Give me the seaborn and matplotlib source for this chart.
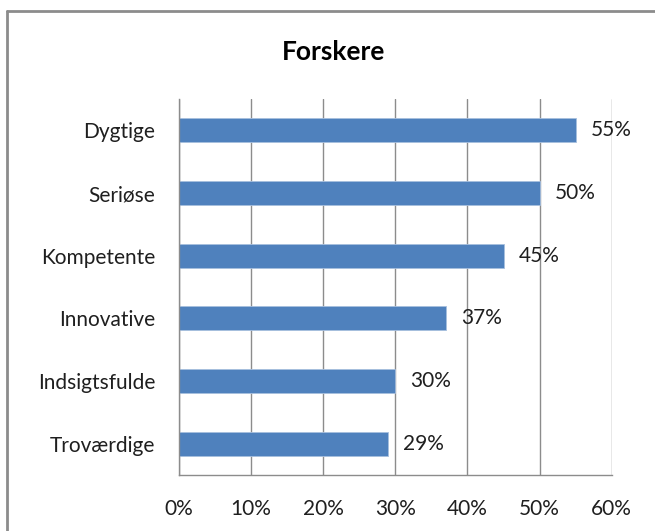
import matplotlib
matplotlib.use("Agg")
import matplotlib.pyplot as plt
from matplotlib.lines import Line2D
from matplotlib.ticker import PercentFormatter
import seaborn as sns

# data
categories = ["Dygtige", "Seriøse", "Kompetente", "Innovative", "Indsigtsfulde", "Troværdige"]
shares = [0.55, 0.50, 0.45, 0.37, 0.30, 0.29]
value_labels = ["55%", "50%", "45%", "37%", "30%", "29%"]
x_ticks = [0.0, 0.1, 0.2, 0.3, 0.4, 0.5, 0.6]

sns.set_style("white")
plt.rcParams["font.family"] = ["Lato", "DejaVu Sans"]

BAR_COLOR = "#4F81BD"
GRID_COLOR = "#8C8C8C"
TEXT_COLOR = "#1F1F1F"

fig = plt.figure(figsize=(6.55, 5.31), dpi=100)
ax = fig.add_axes([0.273, 0.1055, 0.661, 0.708])

sns.barplot(x=shares, y=categories, orient="h", color=BAR_COLOR, saturation=1,
            width=0.38, edgecolor="#A7BFDE", linewidth=0.6, ax=ax)

ax.set_xlim(0, 0.6)
ax.set_xticks(x_ticks)
ax.xaxis.set_major_formatter(PercentFormatter(1.0, decimals=0))
ax.grid(axis="x", color=GRID_COLOR, linewidth=1)
ax.set_axisbelow(True)
ax.set_xlabel("")
ax.set_ylabel("")

for side in ["top", "right"]:
    ax.spines[side].set_visible(False)
for side in ["left", "bottom"]:
    ax.spines[side].set_color(GRID_COLOR)
    ax.spines[side].set_linewidth(1)

ax.tick_params(axis="both", length=0, labelsize=15, colors=TEXT_COLOR)
ax.tick_params(axis="x", pad=17)
ax.tick_params(axis="y", pad=17)

ax.bar_label(ax.containers[0], labels=value_labels, padding=11,
             fontsize=15, color=TEXT_COLOR)

fig.text(0.51, 0.903, "Forskere", ha="center", va="center",
         fontsize=19, fontweight="bold", color="black")

# outer chart border (top and left edges visible in the crop)
fig.add_artist(Line2D([7 / 655, 1], [1 - 11 / 531, 1 - 11 / 531],
                      transform=fig.transFigure, color="#8C8C8C", linewidth=2))
fig.add_artist(Line2D([7 / 655, 7 / 655], [0, 1 - 11 / 531],
                      transform=fig.transFigure, color="#8C8C8C", linewidth=2))

fig.savefig("out.png", dpi=100)
